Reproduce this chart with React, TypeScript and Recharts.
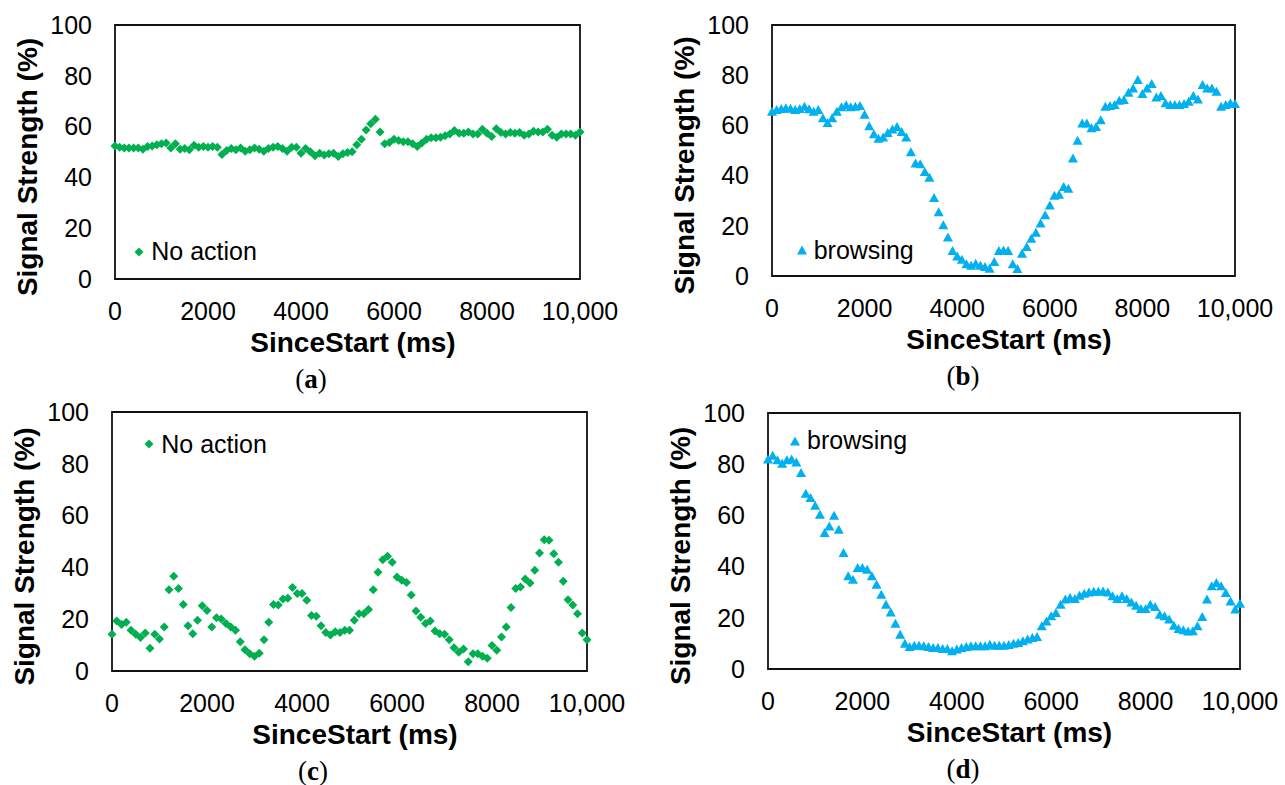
import React from "react";
import {
    Label,
    Legend,
    ReferenceArea,
    Scatter,
    ScatterChart,
    XAxis,
    YAxis,
} from "recharts";

// time axis (ms), one sample every 100 ms
const sinceStart = [
    0, 100, 200, 300, 400, 500, 600, 700, 800, 900,
    1000, 1100, 1200, 1300, 1400, 1500, 1600, 1700, 1800, 1900,
    2000, 2100, 2200, 2300, 2400, 2500, 2600, 2700, 2800, 2900,
    3000, 3100, 3200, 3300, 3400, 3500, 3600, 3700, 3800, 3900,
    4000, 4100, 4200, 4300, 4400, 4500, 4600, 4700, 4800, 4900,
    5000, 5100, 5200, 5300, 5400, 5500, 5600, 5700, 5800, 5900,
    6000, 6100, 6200, 6300, 6400, 6500, 6600, 6700, 6800, 6900,
    7000, 7100, 7200, 7300, 7400, 7500, 7600, 7700, 7800, 7900,
    8000, 8100, 8200, 8300, 8400, 8500, 8600, 8700, 8800, 8900,
    9000, 9100, 9200, 9300, 9400, 9500, 9600, 9700, 9800, 9900,
    10000,
];

// (a) No action
const noActionA = [
    52.4, 51.9, 51.6, 51.6, 51.6, 51.6, 51.1, 52.2, 52.4, 52.9,
    53.2, 53.5, 51.6, 53.2, 51.1, 51.4, 50.9, 52.7, 51.9, 52.2,
    51.9, 52.2, 51.9, 49.0, 50.6, 51.4, 50.9, 51.6, 50.3, 50.9,
    51.6, 51.1, 50.3, 51.4, 51.9, 52.2, 51.4, 50.3, 51.9, 51.9,
    49.5, 51.4, 50.1, 48.5, 49.5, 48.8, 49.3, 49.5, 48.2, 49.3,
    49.8, 50.1, 52.9, 55.0, 58.7, 61.1, 62.9, 57.9, 53.2, 53.7,
    55.0, 54.5, 54.0, 54.0, 53.2, 52.2, 53.5, 55.0, 55.6, 55.6,
    55.8, 56.4, 57.1, 58.5, 57.4, 57.4, 57.9, 57.1, 57.1, 59.0,
    57.4, 56.1, 59.2, 57.7, 57.1, 57.7, 57.4, 57.7, 56.6, 57.1,
    58.2, 57.9, 57.9, 59.0, 56.6, 55.8, 57.1, 57.1, 57.1, 56.6,
    57.9,
];

// (b) browsing
const browsingB = [
    65.4, 66.1, 66.5, 66.8, 66.6, 66.1, 66.5, 67.4, 66.4, 65.4,
    66.1, 62.8, 61.0, 62.8, 65.4, 67.2, 68.0, 67.2, 67.4, 67.7,
    64.2, 59.7, 56.5, 54.7, 55.2, 57.0, 58.4, 59.4, 57.4, 55.2,
    49.3, 44.8, 44.5, 41.4, 39.1, 31.1, 25.4, 20.2, 15.3, 10.0,
    7.8, 6.5, 4.7, 4.1, 4.9, 4.1, 3.6, 2.9, 5.6, 10.0,
    10.2, 10.0, 4.7, 2.8, 8.9, 11.6, 14.8, 17.2, 20.9, 24.2,
    28.1, 32.0, 32.4, 35.5, 34.8, 46.8, 53.9, 60.8, 60.8, 58.9,
    59.4, 62.1, 67.4, 67.7, 68.1, 69.8, 70.1, 73.0, 74.7, 78.1,
    72.5, 74.7, 76.5, 71.1, 71.7, 68.8, 68.1, 68.1, 68.1, 68.5,
    69.4, 71.7, 70.3, 76.1, 74.7, 74.7, 73.4, 67.4, 68.1, 68.8,
    68.5,
];

// (c) No action
const noActionC = [
    14.2, 19.3, 18.0, 18.8, 15.7, 14.2, 12.9, 14.7, 8.8, 14.2,
    12.4, 17.0, 31.4, 36.6, 31.9, 25.7, 17.5, 14.4, 19.6, 25.2,
    23.4, 17.0, 20.6, 20.1, 18.3, 17.0, 15.7, 11.3, 8.2, 6.7,
    5.7, 6.9, 12.1, 18.8, 25.7, 25.5, 27.8, 28.1, 32.2, 29.9,
    29.9, 27.3, 21.4, 21.1, 17.5, 14.9, 13.9, 15.2, 14.9, 15.7,
    15.7, 19.6, 22.1, 22.1, 23.7, 31.4, 38.1, 43.0, 44.3, 42.0,
    36.3, 35.0, 34.2, 29.3, 23.2, 20.8, 18.3, 19.3, 15.4, 14.4,
    14.2, 12.1, 9.0, 7.2, 8.5, 3.6, 6.7, 6.7, 5.7, 4.9,
    9.8, 8.0, 13.1, 17.0, 24.5, 31.9, 32.4, 35.5, 34.0, 38.9,
    45.6, 50.7, 50.5, 45.3, 42.0, 34.7, 27.5, 25.5, 22.1, 14.7,
    12.1,
];

// (d) browsing
const browsingD = [
    81.8, 83.3, 81.5, 80.2, 81.5, 81.8, 80.7, 76.6, 68.5, 66.8,
    63.8, 60.3, 53.1, 55.7, 59.9, 54.4, 45.3, 36.2, 34.9, 39.5,
    39.5, 38.8, 36.2, 32.9, 29.0, 25.1, 22.1, 17.7, 13.4, 9.9,
    8.6, 9.1, 9.1, 8.9, 8.6, 8.2, 8.2, 7.8, 7.8, 6.9,
    7.6, 8.2, 8.6, 8.9, 8.9, 8.9, 8.9, 9.5, 9.1, 9.1,
    9.1, 9.4, 9.9, 10.2, 10.8, 11.5, 12.1, 12.5, 16.7, 18.6,
    20.6, 21.9, 25.1, 27.1, 27.7, 27.3, 28.6, 29.4, 29.9, 30.2,
    30.2, 30.3, 29.9, 28.4, 27.3, 28.4, 27.3, 26.0, 24.7, 23.4,
    23.4, 25.1, 24.2, 21.2, 20.6, 19.3, 16.9, 15.6, 15.1, 14.6,
    14.7, 16.7, 20.3, 27.1, 32.3, 33.6, 32.3, 29.7, 26.4, 23.2,
    25.5,
];

const xTicks = [0, 2000, 4000, 6000, 8000, 10000];
const yTicks = [0, 20, 40, 60, 80, 100];

const GREEN = "#00B050";
const BLUE = "#00B0F0";
const FONT = '"Liberation Sans", Arial, sans-serif';
const SERIF = '"Liberation Serif", "Times New Roman", serif';

const toPoints = (ys: number[]) =>
    sinceStart.map((t, i) => ({ t, s: ys[i] }));

const fmtX = (v: number) => (v === 10000 ? "10,000" : String(v));

const diamondPts = (cx: number, cy: number, r: number) =>
    `${cx},${cy - r} ${cx + r},${cy} ${cx},${cy + r} ${cx - r},${cy}`;
const trianglePts = (cx: number, cy: number) =>
    `${cx},${cy - 5} ${cx + 5},${cy + 4} ${cx - 5},${cy + 4}`;

type PanelProps = {
    data: number[];
    name: string;
    color: string;
    marker: "diamond" | "triangle";
    plotLeft: number;
    plotTop: number;
    plotW: number;
    plotH: number;
    legendX: number;
    legendY: number;
    caption: string;
    captionX: number;
};

const Panel = ({
    data,
    name,
    color,
    marker,
    plotLeft,
    plotTop,
    plotW,
    plotH,
    legendX,
    legendY,
    caption,
    captionX,
}: PanelProps) => {
    const divLeft = plotLeft - 115;
    const divTop = plotTop - 25;
    const width = 115 + plotW + 45;
    const height = 25 + plotH + 120;

    const shape = (p: any) =>
        marker === "diamond" ? (
            <polygon points={diamondPts(p.cx, p.cy, 4.5)} fill={color} />
        ) : (
            <polygon points={trianglePts(p.cx, p.cy)} fill={color} />
        );

    const yTitle = (props: any) => {
        const { x, y, width: w, height: h } = props.viewBox;
        const bx = x + w - 78;
        const cy = y + h / 2 + 15;
        return (
            <text
                transform={`translate(${bx},${cy}) rotate(-90)`}
                textAnchor="middle"
                fontSize={28}
                fontWeight="bold"
                fontFamily={FONT}
                fill="#000"
            >
                Signal Strength (%)
            </text>
        );
    };

    const xTitle = (props: any) => {
        const { x, y, width: w } = props.viewBox;
        return (
            <g>
                <text
                    x={x + w / 2 + 5.5}
                    y={y + 73}
                    textAnchor="middle"
                    fontSize={28}
                    fontWeight="bold"
                    fontFamily={FONT}
                    fill="#000"
                >
                    SinceStart (ms)
                </text>
                <text
                    x={captionX - divLeft}
                    y={y + 109}
                    textAnchor="middle"
                    fontSize={27}
                    fontFamily={SERIF}
                    fill="#000"
                >
                    <tspan>(</tspan>
                    <tspan fontWeight="bold">{caption}</tspan>
                    <tspan>)</tspan>
                </text>
            </g>
        );
    };

    const legendContent = () => (
        <div
            style={{
                display: "flex",
                alignItems: "center",
                height: 25,
                lineHeight: "25px",
                fontSize: 25,
                fontFamily: FONT,
                color: "#000",
                whiteSpace: "nowrap",
            }}
        >
            <svg width={12} height={12}>
                {marker === "diamond" ? (
                    <polygon points={diamondPts(6, 6, 4.5)} fill={color} />
                ) : (
                    <polygon points={trianglePts(6, 6.5)} fill={color} />
                )}
            </svg>
            <span style={{ marginLeft: 6 }}>{name}</span>
        </div>
    );

    return (
        <div style={{ position: "absolute", left: divLeft, top: divTop }}>
            <ScatterChart
                width={width}
                height={height}
                margin={{ top: 25, right: 45, left: 0, bottom: 0 }}
                style={{ fontFamily: FONT }}
            >
                <XAxis
                    type="number"
                    dataKey="t"
                    domain={[0, 10000]}
                    ticks={xTicks}
                    interval={0}
                    tickFormatter={fmtX}
                    axisLine={false}
                    tickLine={false}
                    tickSize={0}
                    tickMargin={23}
                    height={120}
                    tick={{ fill: "#000", fontSize: 25, fontFamily: FONT }}
                >
                    <Label content={xTitle} />
                </XAxis>
                <YAxis
                    type="number"
                    dataKey="s"
                    domain={[0, 100]}
                    ticks={yTicks}
                    interval={0}
                    axisLine={false}
                    tickLine={false}
                    tickSize={0}
                    tickMargin={23}
                    width={115}
                    tick={{ fill: "#000", fontSize: 25, fontFamily: FONT }}
                >
                    <Label content={yTitle} />
                </YAxis>
                <ReferenceArea
                    x1={0}
                    x2={10000}
                    y1={0}
                    y2={100}
                    fill="none"
                    fillOpacity={0}
                    stroke="#111"
                    strokeWidth={1.8}
                    ifOverflow="visible"
                />
                <Legend
                    layout="horizontal"
                    verticalAlign="middle"
                    align="center"
                    content={legendContent}
                    wrapperStyle={{
                        left: legendX - 6 - divLeft,
                        top: legendY - 12.5 - divTop,
                        width: 200,
                        height: 25,
                    }}
                />
                <Scatter
                    name={name}
                    data={toPoints(data)}
                    fill={color}
                    shape={shape}
                    isAnimationActive={false}
                />
            </ScatterChart>
        </div>
    );
};

const App = () => {
    return (
        <div
            style={{
                position: "absolute",
                left: 0,
                top: 0,
                width: 1285,
                height: 785,
                overflow: "hidden",
                background: "#fff",
            }}
        >
            <Panel
                data={noActionA}
                name="No action"
                color={GREEN}
                marker="diamond"
                plotLeft={115}
                plotTop={25}
                plotW={465}
                plotH={254}
                legendX={139.3}
                legendY={251.7}
                caption="a"
                captionX={311}
            />
            <Panel
                data={browsingB}
                name="browsing"
                color={BLUE}
                marker="triangle"
                plotLeft={772}
                plotTop={25}
                plotW={463}
                plotH={251}
                legendX={801.7}
                legendY={250}
                caption="b"
                captionX={963}
            />
            <Panel
                data={noActionC}
                name="No action"
                color={GREEN}
                marker="diamond"
                plotLeft={112}
                plotTop={412}
                plotW={475}
                plotH={259}
                legendX={149.3}
                legendY={444}
                caption="c"
                captionX={313}
            />
            <Panel
                data={browsingD}
                name="browsing"
                color={BLUE}
                marker="triangle"
                plotLeft={768}
                plotTop={413}
                plotW={472}
                plotH={256}
                legendX={795}
                legendY={440.7}
                caption="d"
                captionX={963}
            />
        </div>
    );
};

export default App;
